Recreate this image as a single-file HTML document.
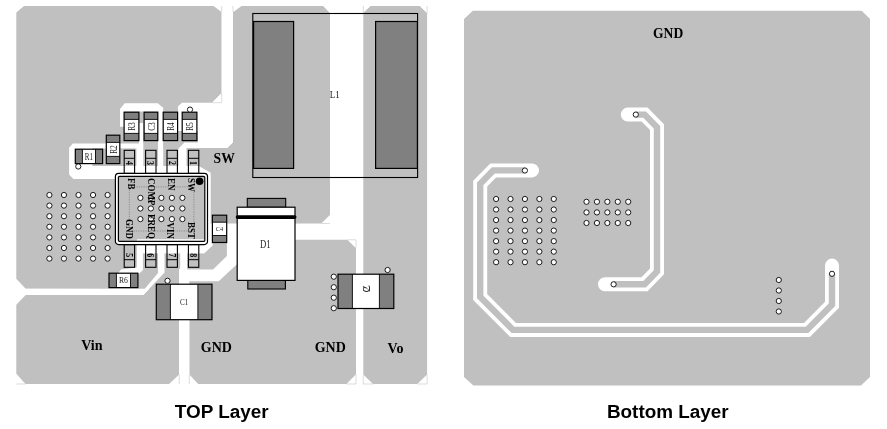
<!DOCTYPE html>
<html lang="en"><head><meta charset="utf-8"><title>PCB Layout - TOP Layer / Bottom Layer</title>
<style>
html,body{margin:0;padding:0;background:#fff;}
body{width:887px;height:429px;overflow:hidden;font-family:"Liberation Sans",sans-serif;}
svg{display:block;}
svg{will-change:transform;}
</style></head><body>
<svg width="887" height="429" viewBox="0 0 887 429">
<rect width="887" height="429" fill="#fff"/>
<polygon points="16.3,12.5 24,6 213.6,6 221.7,12.3 221.7,93 212,102.7 212,260 150,289 25.5,288.8 16.3,279" fill="#c0c0c0" />
<polygon points="100,240 240,200 240,282 100,288.8" fill="#c0c0c0" />
<polygon points="233,12.3 241.5,6 323.2,6 330,13.3 330,215 321.2,223.5 210.7,223.5 210.7,173 198.7,166 186.3,166 186.3,148 227.2,148 233,142.2" fill="#c0c0c0" />
<polygon points="25.5,295 143.4,295 164.5,272.5 164.5,253.2 179.2,253.2 179.2,374.6 169,384 25.5,384 16.3,373.7 16.3,304.6" fill="#c0c0c0" />
<polygon points="189.3,281.3 218.7,281.3 237.2,264 237.2,239.8 347.4,239.8 356,248.2 356,374.3 346.5,384 198.2,384 189.3,374.6" fill="#c0c0c0" />
<polygon points="363.3,13 370.6,6 419.7,6 427.1,13.3 427.1,374.6 417.3,384 373,384 363.3,374.6" fill="#c0c0c0" />
<polygon points="120,109 124.7,103.2 157.9,103.2 162.4,107.2 163.2,107.2 163.2,166 158,166 158,111.5 124.1,111.5 124.1,126.8 120,126.8" fill="#fff" />
<rect x="139" y="123" width="4.3" height="27" fill="#fff" />
<polygon points="178,106.3 182,102.7 212,102.7 221.7,93 221.7,6 233,6 233,142.2 227.2,148 186.3,148 186.3,173.5 178.4,173.5 178.4,148.4 184.2,142.6 197.9,142.6 197.9,131 178,131" fill="#fff" />
<polygon points="72.8,143.5 163.2,143.5 163.2,148.4 186.3,148.4 186.3,166 198.7,166 210.7,172.8 210.7,223.5 212.4,223.5 212.4,245.6 204.2,253.2 137,253.2 137,239.2 204.8,239.2 204.8,176.4 118.4,176.4 118.4,179.1 73.4,179.1 69.1,174.6 69.1,147.8" fill="#fff" />
<rect x="92.4" y="148.4" width="44" height="17.6" fill="#c0c0c0" />
<rect x="143.3" y="123" width="14.7" height="43" fill="#c0c0c0" />
<polygon points="163.2,131 163.2,166 178.4,166 178.4,148.4 184.2,142.6 163.2,142.6" fill="#c0c0c0" />
<polygon points="136.8,244 142.9,244 142.9,270 137.8,275 117,275 121,269.6 136.8,267.5" fill="#fff" />
<polygon points="158,244 164.5,244 164.5,272.5 143.4,295 25.5,295 16.3,304.6 10,304.6 10,279 16.3,279 25.5,288.8 144.8,288.8 158,273" fill="#fff" />
<polygon points="180.2,244 187.2,244 187.2,269.4 213,269.4 226.9,256 226.9,223.5 237.2,223.5 237.2,264 218.7,281.3 189.3,281.3 189.3,384 179,384 179,269.4 180.2,268" fill="#fff" />
<rect x="137" y="244" width="67.2" height="9.2" fill="#fff" />
<polygon points="204.2,253.2 212.4,245.6 212.4,244 204.2,244" fill="#fff" />
<line x1="221.7" y1="6" x2="221.7" y2="12.3" stroke="#cdcdcd" stroke-width="0.7"/>
<line x1="233" y1="6" x2="233" y2="12.3" stroke="#cdcdcd" stroke-width="0.7"/>
<line x1="221.7" y1="93" x2="221.7" y2="102.7" stroke="#cdcdcd" stroke-width="0.7"/>
<line x1="212" y1="102.7" x2="221.7" y2="102.7" stroke="#cdcdcd" stroke-width="0.7"/>
<line x1="363.3" y1="6" x2="363.3" y2="13" stroke="#cdcdcd" stroke-width="0.7"/>
<line x1="427.1" y1="6" x2="427.1" y2="13.3" stroke="#cdcdcd" stroke-width="0.7"/>
<line x1="321.2" y1="223.5" x2="330" y2="223.5" stroke="#cdcdcd" stroke-width="0.7"/>
<line x1="356" y1="239.8" x2="356" y2="248.2" stroke="#cdcdcd" stroke-width="0.7"/>
<line x1="347.4" y1="239.8" x2="356" y2="239.8" stroke="#cdcdcd" stroke-width="0.7"/>
<line x1="16.3" y1="384" x2="25.5" y2="384" stroke="#cdcdcd" stroke-width="0.7"/>
<line x1="179.2" y1="374.6" x2="179.2" y2="384" stroke="#cdcdcd" stroke-width="0.7"/>
<line x1="189.3" y1="374.6" x2="189.3" y2="384" stroke="#cdcdcd" stroke-width="0.7"/>
<line x1="356" y1="374.3" x2="356" y2="384" stroke="#cdcdcd" stroke-width="0.7"/>
<line x1="346.5" y1="384" x2="356" y2="384" stroke="#cdcdcd" stroke-width="0.7"/>
<line x1="363.3" y1="374.6" x2="363.3" y2="384" stroke="#cdcdcd" stroke-width="0.7"/>
<line x1="363.3" y1="384" x2="373" y2="384" stroke="#cdcdcd" stroke-width="0.7"/>
<line x1="417.3" y1="384" x2="427.1" y2="384" stroke="#cdcdcd" stroke-width="0.7"/>
<line x1="427.1" y1="374.6" x2="427.1" y2="384" stroke="#cdcdcd" stroke-width="0.7"/>
<circle cx="49.4" cy="195" r="2.62" fill="#fff" stroke="#111" stroke-width="0.95"/>
<circle cx="49.4" cy="205.6" r="2.62" fill="#fff" stroke="#111" stroke-width="0.95"/>
<circle cx="49.4" cy="216.2" r="2.62" fill="#fff" stroke="#111" stroke-width="0.95"/>
<circle cx="49.4" cy="226.8" r="2.62" fill="#fff" stroke="#111" stroke-width="0.95"/>
<circle cx="49.4" cy="237.4" r="2.62" fill="#fff" stroke="#111" stroke-width="0.95"/>
<circle cx="49.4" cy="248" r="2.62" fill="#fff" stroke="#111" stroke-width="0.95"/>
<circle cx="49.4" cy="258.6" r="2.62" fill="#fff" stroke="#111" stroke-width="0.95"/>
<circle cx="63.95" cy="195" r="2.62" fill="#fff" stroke="#111" stroke-width="0.95"/>
<circle cx="63.95" cy="205.6" r="2.62" fill="#fff" stroke="#111" stroke-width="0.95"/>
<circle cx="63.95" cy="216.2" r="2.62" fill="#fff" stroke="#111" stroke-width="0.95"/>
<circle cx="63.95" cy="226.8" r="2.62" fill="#fff" stroke="#111" stroke-width="0.95"/>
<circle cx="63.95" cy="237.4" r="2.62" fill="#fff" stroke="#111" stroke-width="0.95"/>
<circle cx="63.95" cy="248" r="2.62" fill="#fff" stroke="#111" stroke-width="0.95"/>
<circle cx="63.95" cy="258.6" r="2.62" fill="#fff" stroke="#111" stroke-width="0.95"/>
<circle cx="78.5" cy="195" r="2.62" fill="#fff" stroke="#111" stroke-width="0.95"/>
<circle cx="78.5" cy="205.6" r="2.62" fill="#fff" stroke="#111" stroke-width="0.95"/>
<circle cx="78.5" cy="216.2" r="2.62" fill="#fff" stroke="#111" stroke-width="0.95"/>
<circle cx="78.5" cy="226.8" r="2.62" fill="#fff" stroke="#111" stroke-width="0.95"/>
<circle cx="78.5" cy="237.4" r="2.62" fill="#fff" stroke="#111" stroke-width="0.95"/>
<circle cx="78.5" cy="248" r="2.62" fill="#fff" stroke="#111" stroke-width="0.95"/>
<circle cx="78.5" cy="258.6" r="2.62" fill="#fff" stroke="#111" stroke-width="0.95"/>
<circle cx="93.05" cy="195" r="2.62" fill="#fff" stroke="#111" stroke-width="0.95"/>
<circle cx="93.05" cy="205.6" r="2.62" fill="#fff" stroke="#111" stroke-width="0.95"/>
<circle cx="93.05" cy="216.2" r="2.62" fill="#fff" stroke="#111" stroke-width="0.95"/>
<circle cx="93.05" cy="226.8" r="2.62" fill="#fff" stroke="#111" stroke-width="0.95"/>
<circle cx="93.05" cy="237.4" r="2.62" fill="#fff" stroke="#111" stroke-width="0.95"/>
<circle cx="93.05" cy="248" r="2.62" fill="#fff" stroke="#111" stroke-width="0.95"/>
<circle cx="93.05" cy="258.6" r="2.62" fill="#fff" stroke="#111" stroke-width="0.95"/>
<circle cx="107.6" cy="195" r="2.62" fill="#fff" stroke="#111" stroke-width="0.95"/>
<circle cx="107.6" cy="205.6" r="2.62" fill="#fff" stroke="#111" stroke-width="0.95"/>
<circle cx="107.6" cy="216.2" r="2.62" fill="#fff" stroke="#111" stroke-width="0.95"/>
<circle cx="107.6" cy="226.8" r="2.62" fill="#fff" stroke="#111" stroke-width="0.95"/>
<circle cx="107.6" cy="237.4" r="2.62" fill="#fff" stroke="#111" stroke-width="0.95"/>
<circle cx="107.6" cy="248" r="2.62" fill="#fff" stroke="#111" stroke-width="0.95"/>
<circle cx="107.6" cy="258.6" r="2.62" fill="#fff" stroke="#111" stroke-width="0.95"/>
<circle cx="140.4" cy="197.9" r="2.62" fill="#fff" stroke="#111" stroke-width="0.95"/>
<circle cx="140.4" cy="208.5" r="2.62" fill="#fff" stroke="#111" stroke-width="0.95"/>
<circle cx="140.4" cy="219.1" r="2.62" fill="#fff" stroke="#111" stroke-width="0.95"/>
<circle cx="150.9" cy="197.9" r="2.62" fill="#fff" stroke="#111" stroke-width="0.95"/>
<circle cx="150.9" cy="208.5" r="2.62" fill="#fff" stroke="#111" stroke-width="0.95"/>
<circle cx="150.9" cy="219.1" r="2.62" fill="#fff" stroke="#111" stroke-width="0.95"/>
<circle cx="161.4" cy="197.9" r="2.62" fill="#fff" stroke="#111" stroke-width="0.95"/>
<circle cx="161.4" cy="208.5" r="2.62" fill="#fff" stroke="#111" stroke-width="0.95"/>
<circle cx="161.4" cy="219.1" r="2.62" fill="#fff" stroke="#111" stroke-width="0.95"/>
<circle cx="171.9" cy="197.9" r="2.62" fill="#fff" stroke="#111" stroke-width="0.95"/>
<circle cx="171.9" cy="208.5" r="2.62" fill="#fff" stroke="#111" stroke-width="0.95"/>
<circle cx="171.9" cy="219.1" r="2.62" fill="#fff" stroke="#111" stroke-width="0.95"/>
<circle cx="182.4" cy="197.9" r="2.62" fill="#fff" stroke="#111" stroke-width="0.95"/>
<circle cx="182.4" cy="208.5" r="2.62" fill="#fff" stroke="#111" stroke-width="0.95"/>
<circle cx="182.4" cy="219.1" r="2.62" fill="#fff" stroke="#111" stroke-width="0.95"/>
<rect x="252.8" y="13.5" width="164.8" height="164" fill="none" stroke="#000" stroke-width="1.1"/>
<rect x="253.6" y="21.5" width="40" height="146.9" fill="#808080" stroke="#000" stroke-width="1.2"/>
<rect x="375.6" y="21.5" width="41.8" height="146.9" fill="#808080" stroke="#000" stroke-width="1.2"/>
<text transform="translate(329.8,98.4)" font-family='"Liberation Serif", serif' font-size="11" font-weight="normal" text-anchor="start" fill="#222" textLength="10" lengthAdjust="spacingAndGlyphs">L1</text>
<rect x="124.1" y="112.2" width="14.8" height="28.4" fill="#fff" />
<rect x="124.1" y="112.2" width="14.8" height="7.2" fill="#808080" />
<rect x="124.1" y="133.4" width="14.8" height="7.2" fill="#808080" />
<rect x="124.1" y="112.2" width="14.8" height="28.4" fill="none" stroke="#000" stroke-width="1.2"/>
<path d="M124.1,119.4H138.9M124.1,133.4H138.9" stroke="#000" stroke-width="0.9"/>
<text transform="translate(135.1,126.5) rotate(-90)" font-family='"Liberation Serif", serif' font-size="10.5" font-weight="normal" text-anchor="middle" fill="#222" textLength="8.7" lengthAdjust="spacingAndGlyphs">R3</text>
<rect x="144.1" y="112.2" width="13.7" height="28.4" fill="#fff" />
<rect x="144.1" y="112.2" width="13.7" height="7.2" fill="#808080" />
<rect x="144.1" y="133.4" width="13.7" height="7.2" fill="#808080" />
<rect x="144.1" y="112.2" width="13.7" height="28.4" fill="none" stroke="#000" stroke-width="1.2"/>
<path d="M144.1,119.4H157.8M144.1,133.4H157.8" stroke="#000" stroke-width="0.9"/>
<text transform="translate(154.55,126.5) rotate(-90)" font-family='"Liberation Serif", serif' font-size="10.5" font-weight="normal" text-anchor="middle" fill="#222" textLength="8.7" lengthAdjust="spacingAndGlyphs">C3</text>
<rect x="163.2" y="112.2" width="14.4" height="28.4" fill="#fff" />
<rect x="163.2" y="112.2" width="14.4" height="7.2" fill="#808080" />
<rect x="163.2" y="133.4" width="14.4" height="7.2" fill="#808080" />
<rect x="163.2" y="112.2" width="14.4" height="28.4" fill="none" stroke="#000" stroke-width="1.2"/>
<path d="M163.2,119.4H177.6M163.2,133.4H177.6" stroke="#000" stroke-width="0.9"/>
<text transform="translate(174,126.5) rotate(-90)" font-family='"Liberation Serif", serif' font-size="10.5" font-weight="normal" text-anchor="middle" fill="#222" textLength="8.7" lengthAdjust="spacingAndGlyphs">R4</text>
<rect x="182.2" y="112.2" width="14.7" height="28.4" fill="#fff" />
<rect x="182.2" y="112.2" width="14.7" height="7.2" fill="#808080" />
<rect x="182.2" y="133.4" width="14.7" height="7.2" fill="#808080" />
<rect x="182.2" y="112.2" width="14.7" height="28.4" fill="none" stroke="#000" stroke-width="1.2"/>
<path d="M182.2,119.4H196.9M182.2,133.4H196.9" stroke="#000" stroke-width="0.9"/>
<text transform="translate(193.15,126.5) rotate(-90)" font-family='"Liberation Serif", serif' font-size="10.5" font-weight="normal" text-anchor="middle" fill="#222" textLength="8.7" lengthAdjust="spacingAndGlyphs">R5</text>
<rect x="106.3" y="135.2" width="13.5" height="28.4" fill="#fff" />
<rect x="106.3" y="135.2" width="13.5" height="7.2" fill="#808080" />
<rect x="106.3" y="156.4" width="13.5" height="7.2" fill="#808080" />
<rect x="106.3" y="135.2" width="13.5" height="28.4" fill="none" stroke="#000" stroke-width="1.2"/>
<path d="M106.3,142.4H119.8M106.3,156.4H119.8" stroke="#000" stroke-width="0.9"/>
<text transform="translate(116.65,149.5) rotate(-90)" font-family='"Liberation Serif", serif' font-size="10.5" font-weight="normal" text-anchor="middle" fill="#222" textLength="8.7" lengthAdjust="spacingAndGlyphs">R2</text>
<rect x="75.3" y="149.2" width="27.3" height="14.4" fill="#fff" />
<rect x="75.3" y="149.2" width="7.1" height="14.4" fill="#808080" />
<rect x="95.5" y="149.2" width="7.1" height="14.4" fill="#808080" />
<rect x="75.3" y="149.2" width="27.3" height="14.4" fill="none" stroke="#000" stroke-width="1.2"/>
<path d="M82.4,149.2V163.6M95.5,149.2V163.6" stroke="#000" stroke-width="0.9"/>
<text transform="translate(88.95,159.501)" font-family='"Liberation Serif", serif' font-size="9.7" font-weight="normal" text-anchor="middle" fill="#222" textLength="8.2" lengthAdjust="spacingAndGlyphs">R1</text>
<rect x="109" y="273.2" width="28.9" height="14.4" fill="#fff" />
<rect x="109" y="273.2" width="7.4" height="14.4" fill="#808080" />
<rect x="130.5" y="273.2" width="7.4" height="14.4" fill="#808080" />
<rect x="109" y="273.2" width="28.9" height="14.4" fill="none" stroke="#000" stroke-width="1.2"/>
<path d="M116.4,273.2V287.6M130.5,273.2V287.6" stroke="#000" stroke-width="0.9"/>
<text transform="translate(123.45,283.37)" font-family='"Liberation Serif", serif' font-size="9" font-weight="normal" text-anchor="middle" fill="#222" textLength="9" lengthAdjust="spacingAndGlyphs">R6</text>
<rect x="156.3" y="284.2" width="55.7" height="35.5" fill="#fff" />
<rect x="156.3" y="284.2" width="14.1" height="35.5" fill="#808080" />
<rect x="197.9" y="284.2" width="14.1" height="35.5" fill="#808080" />
<rect x="156.3" y="284.2" width="55.7" height="35.5" fill="none" stroke="#000" stroke-width="1.2"/>
<path d="M170.4,284.2V319.7M197.9,284.2V319.7" stroke="#000" stroke-width="0.9"/>
<text transform="translate(184.15,304.592)" font-family='"Liberation Serif", serif' font-size="7.4" font-weight="normal" text-anchor="middle" fill="#222" textLength="8.2" lengthAdjust="spacingAndGlyphs">C1</text>
<rect x="338" y="274.2" width="55.8" height="34.3" fill="#fff" />
<rect x="338" y="274.2" width="14.4" height="34.3" fill="#808080" />
<rect x="379.4" y="274.2" width="14.4" height="34.3" fill="#808080" />
<rect x="338" y="274.2" width="55.8" height="34.3" fill="none" stroke="#000" stroke-width="1.2"/>
<path d="M352.4,274.2V308.5M379.4,274.2V308.5" stroke="#000" stroke-width="0.9"/>
<text transform="translate(369.5,292.55) rotate(-90)" font-family='"Liberation Serif", serif' font-size="11" letter-spacing="-6.4" text-anchor="middle" fill="#222">C2</text>
<rect x="212.4" y="215.2" width="14.3" height="27.3" fill="#fff" />
<rect x="212.4" y="215.2" width="14.3" height="7" fill="#808080" />
<rect x="212.4" y="235.5" width="14.3" height="7" fill="#808080" />
<rect x="212.4" y="215.2" width="14.3" height="27.3" fill="none" stroke="#000" stroke-width="1.2"/>
<path d="M212.4,222.2H226.7M212.4,235.5H226.7" stroke="#000" stroke-width="0.9"/>
<text transform="translate(219.55,230.7)" font-family='"Liberation Serif", serif' font-size="6.8" font-weight="normal" text-anchor="middle" fill="#222" textLength="7.4" lengthAdjust="spacingAndGlyphs">C4</text>
<circle cx="190" cy="109.6" r="2.62" fill="#fff" stroke="#111" stroke-width="0.95"/>
<circle cx="78.3" cy="166.5" r="2.62" fill="#fff" stroke="#111" stroke-width="0.95"/>
<circle cx="167.5" cy="280.8" r="2.62" fill="#fff" stroke="#111" stroke-width="0.95"/>
<circle cx="387.6" cy="270" r="2.62" fill="#fff" stroke="#111" stroke-width="0.95"/>
<circle cx="333.8" cy="276.7" r="2.62" fill="#fff" stroke="#111" stroke-width="0.95"/>
<circle cx="333.8" cy="287.2" r="2.62" fill="#fff" stroke="#111" stroke-width="0.95"/>
<circle cx="333.8" cy="297.7" r="2.62" fill="#fff" stroke="#111" stroke-width="0.95"/>
<circle cx="333.8" cy="308.2" r="2.62" fill="#fff" stroke="#111" stroke-width="0.95"/>
<rect x="247.3" y="198.4" width="38.4" height="8.9" fill="#808080" stroke="#000" stroke-width="1.1"/>
<rect x="247.8" y="280.2" width="37.6" height="8.8" fill="#808080" stroke="#000" stroke-width="1.1"/>
<rect x="237.2" y="207.2" width="57.8" height="73.2" fill="#fff" stroke="#000" stroke-width="1.2"/>
<line x1="237.6" y1="217.1" x2="294.6" y2="217.1" stroke="#000" stroke-width="3.8" stroke-linecap="round"/>
<text transform="translate(260,247.6)" font-family='"Liberation Serif", serif' font-size="11.5" font-weight="normal" text-anchor="start" fill="#222" textLength="10.6" lengthAdjust="spacingAndGlyphs">D1</text>
<rect x="124.2" y="150.3" width="10.4" height="23.1" fill="none" stroke="#000" stroke-width="1.1"/>
<line x1="124.2" y1="158.3" x2="134.6" y2="158.3" stroke="#000" stroke-width="1"/>
<text transform="translate(126,163.1) rotate(90) scale(0.72,1)" font-family='"Liberation Serif", serif' font-size="11" font-weight="bold" text-anchor="middle" fill="#000">4</text>
<rect x="145.6" y="150.3" width="10.4" height="23.1" fill="none" stroke="#000" stroke-width="1.1"/>
<line x1="145.6" y1="158.3" x2="156" y2="158.3" stroke="#000" stroke-width="1"/>
<text transform="translate(147.4,163.1) rotate(90) scale(0.72,1)" font-family='"Liberation Serif", serif' font-size="11" font-weight="bold" text-anchor="middle" fill="#000">3</text>
<rect x="167" y="150.3" width="10.4" height="23.1" fill="none" stroke="#000" stroke-width="1.1"/>
<line x1="167" y1="158.3" x2="177.4" y2="158.3" stroke="#000" stroke-width="1"/>
<text transform="translate(168.8,163.1) rotate(90) scale(0.72,1)" font-family='"Liberation Serif", serif' font-size="11" font-weight="bold" text-anchor="middle" fill="#000">2</text>
<rect x="188.4" y="150.3" width="10.4" height="23.1" fill="none" stroke="#000" stroke-width="1.1"/>
<line x1="188.4" y1="158.3" x2="198.8" y2="158.3" stroke="#000" stroke-width="1"/>
<text transform="translate(190.2,163.1) rotate(90) scale(0.72,1)" font-family='"Liberation Serif", serif' font-size="11" font-weight="bold" text-anchor="middle" fill="#000">1</text>
<rect x="124.2" y="244.6" width="10.4" height="22.7" fill="none" stroke="#000" stroke-width="1.1"/>
<line x1="124.2" y1="259.7" x2="134.6" y2="259.7" stroke="#000" stroke-width="1"/>
<text transform="translate(126,255.3) rotate(90) scale(0.72,1)" font-family='"Liberation Serif", serif' font-size="11" font-weight="bold" text-anchor="middle" fill="#000">5</text>
<rect x="145.6" y="244.6" width="10.4" height="22.7" fill="none" stroke="#000" stroke-width="1.1"/>
<line x1="145.6" y1="259.7" x2="156" y2="259.7" stroke="#000" stroke-width="1"/>
<text transform="translate(147.4,255.3) rotate(90) scale(0.72,1)" font-family='"Liberation Serif", serif' font-size="11" font-weight="bold" text-anchor="middle" fill="#000">6</text>
<rect x="167" y="244.6" width="10.4" height="22.7" fill="none" stroke="#000" stroke-width="1.1"/>
<line x1="167" y1="259.7" x2="177.4" y2="259.7" stroke="#000" stroke-width="1"/>
<text transform="translate(168.8,255.3) rotate(90) scale(0.72,1)" font-family='"Liberation Serif", serif' font-size="11" font-weight="bold" text-anchor="middle" fill="#000">7</text>
<rect x="188.4" y="244.6" width="10.4" height="22.7" fill="none" stroke="#000" stroke-width="1.1"/>
<line x1="188.4" y1="259.7" x2="198.8" y2="259.7" stroke="#000" stroke-width="1"/>
<text transform="translate(190.2,255.3) rotate(90) scale(0.72,1)" font-family='"Liberation Serif", serif' font-size="11" font-weight="bold" text-anchor="middle" fill="#000">8</text>
<path fill-rule="evenodd" fill="#fff" stroke="#000" stroke-width="1.2" d="M118.6,173.4H204.3a3.2,3.2 0 0 1 3.2,3.2V241.4a3.2,3.2 0 0 1 -3.2,3.2H118.6a3.2,3.2 0 0 1 -3.2,-3.2V176.6a3.2,3.2 0 0 1 3.2,-3.2Z M119.6,176.4a1.2,1.2 0 0 0 -1.2,1.2V240.2a1.2,1.2 0 0 0 1.2,1.2H203.6a1.2,1.2 0 0 0 1.2,-1.2V177.6a1.2,1.2 0 0 0 -1.2,-1.2Z"/>
<rect x="129.3" y="186.9" width="64.6" height="44.1" fill="none" stroke="#777" stroke-width="0.7" stroke-dasharray="1.2,1.2"/>
<circle cx="199.6" cy="181.3" r="3.8" fill="#000"/>
<text transform="translate(127.7,178.1) rotate(90) scale(0.85,1)" font-family='"Liberation Serif", serif' font-size="10.6" font-weight="bold" text-anchor="start" fill="#000">FB</text>
<text transform="translate(147.8,178.1) rotate(90) scale(0.85,1)" font-family='"Liberation Serif", serif' font-size="10.6" font-weight="bold" text-anchor="start" fill="#000">COMP</text>
<text transform="translate(168.4,178.1) rotate(90) scale(0.85,1)" font-family='"Liberation Serif", serif' font-size="10.6" font-weight="bold" text-anchor="start" fill="#000">EN</text>
<text transform="translate(187.6,178.1) rotate(90) scale(0.85,1)" font-family='"Liberation Serif", serif' font-size="10.6" font-weight="bold" text-anchor="start" fill="#000">SW</text>
<text transform="translate(126.1,239) rotate(90) scale(0.85,1)" font-family='"Liberation Serif", serif' font-size="10.6" font-weight="bold" text-anchor="end" fill="#000">GND</text>
<text transform="translate(147.7,239) rotate(90) scale(0.85,1)" font-family='"Liberation Serif", serif' font-size="10.6" font-weight="bold" text-anchor="end" fill="#000">FREQ</text>
<text transform="translate(167.4,239) rotate(90) scale(0.85,1)" font-family='"Liberation Serif", serif' font-size="10.6" font-weight="bold" text-anchor="end" fill="#000">VIN</text>
<text transform="translate(187.5,239) rotate(90) scale(0.85,1)" font-family='"Liberation Serif", serif' font-size="10.6" font-weight="bold" text-anchor="end" fill="#000">BST</text>
<text transform="translate(213.6,163.3)" font-family='"Liberation Serif", serif' font-size="14" font-weight="bold" text-anchor="start" fill="#000" textLength="21.2" lengthAdjust="spacingAndGlyphs">SW</text>
<text transform="translate(81.2,349.5)" font-family='"Liberation Serif", serif' font-size="14.3" font-weight="bold" text-anchor="start" fill="#000" textLength="21.4" lengthAdjust="spacingAndGlyphs">Vin</text>
<text transform="translate(200.8,351.7)" font-family='"Liberation Serif", serif' font-size="14" font-weight="bold" text-anchor="start" fill="#000">GND</text>
<text transform="translate(314.7,351.7)" font-family='"Liberation Serif", serif' font-size="14" font-weight="bold" text-anchor="start" fill="#000">GND</text>
<text transform="translate(387.6,353)" font-family='"Liberation Serif", serif' font-size="14" font-weight="bold" text-anchor="start" fill="#000">Vo</text>
<text transform="translate(221.7,417.6)" font-family='"Liberation Sans", sans-serif' font-size="18.9" font-weight="bold" text-anchor="middle" fill="#000">TOP Layer</text>
<polygon points="464,19 472.8,10.8 861.7,10.8 870,19 870,377 861,385.5 473.4,385.5 464,377" fill="#c0c0c0" />
<path d="M832,265.6V304.8L807,329.9H513L480.2,297V183.7L493.2,170.4H532" fill="none" stroke="#fff" stroke-width="14" stroke-linecap="round" stroke-linejoin="miter"/>
<path d="M832,273.8V304.8L807,329.9H513L480.2,297V183.7L493.2,170.4H524.9" fill="none" stroke="#c0c0c0" stroke-width="6.4" stroke-linecap="butt" stroke-linejoin="miter"/>
<path d="M627.8,114.6H644.6L657,127.2V271.5L644.6,284.2H605" fill="none" stroke="#fff" stroke-width="14" stroke-linecap="round" stroke-linejoin="miter"/>
<path d="M635.8,114.6H644.6L657,127.2V271.5L644.6,284.2H613.6" fill="none" stroke="#c0c0c0" stroke-width="6.4" stroke-linecap="butt" stroke-linejoin="miter"/>
<circle cx="524.9" cy="170.5" r="2.62" fill="#fff" stroke="#111" stroke-width="0.95"/>
<circle cx="832" cy="273.8" r="2.62" fill="#fff" stroke="#111" stroke-width="0.95"/>
<circle cx="635.8" cy="114.6" r="2.62" fill="#fff" stroke="#111" stroke-width="0.95"/>
<circle cx="613.6" cy="284.3" r="2.62" fill="#fff" stroke="#111" stroke-width="0.95"/>
<circle cx="496.1" cy="199" r="2.62" fill="#fff" stroke="#111" stroke-width="0.95"/>
<circle cx="496.1" cy="209.53" r="2.62" fill="#fff" stroke="#111" stroke-width="0.95"/>
<circle cx="496.1" cy="220.06" r="2.62" fill="#fff" stroke="#111" stroke-width="0.95"/>
<circle cx="496.1" cy="230.59" r="2.62" fill="#fff" stroke="#111" stroke-width="0.95"/>
<circle cx="496.1" cy="241.12" r="2.62" fill="#fff" stroke="#111" stroke-width="0.95"/>
<circle cx="496.1" cy="251.65" r="2.62" fill="#fff" stroke="#111" stroke-width="0.95"/>
<circle cx="496.1" cy="262.18" r="2.62" fill="#fff" stroke="#111" stroke-width="0.95"/>
<circle cx="510.52" cy="199" r="2.62" fill="#fff" stroke="#111" stroke-width="0.95"/>
<circle cx="510.52" cy="209.53" r="2.62" fill="#fff" stroke="#111" stroke-width="0.95"/>
<circle cx="510.52" cy="220.06" r="2.62" fill="#fff" stroke="#111" stroke-width="0.95"/>
<circle cx="510.52" cy="230.59" r="2.62" fill="#fff" stroke="#111" stroke-width="0.95"/>
<circle cx="510.52" cy="241.12" r="2.62" fill="#fff" stroke="#111" stroke-width="0.95"/>
<circle cx="510.52" cy="251.65" r="2.62" fill="#fff" stroke="#111" stroke-width="0.95"/>
<circle cx="510.52" cy="262.18" r="2.62" fill="#fff" stroke="#111" stroke-width="0.95"/>
<circle cx="524.94" cy="199" r="2.62" fill="#fff" stroke="#111" stroke-width="0.95"/>
<circle cx="524.94" cy="209.53" r="2.62" fill="#fff" stroke="#111" stroke-width="0.95"/>
<circle cx="524.94" cy="220.06" r="2.62" fill="#fff" stroke="#111" stroke-width="0.95"/>
<circle cx="524.94" cy="230.59" r="2.62" fill="#fff" stroke="#111" stroke-width="0.95"/>
<circle cx="524.94" cy="241.12" r="2.62" fill="#fff" stroke="#111" stroke-width="0.95"/>
<circle cx="524.94" cy="251.65" r="2.62" fill="#fff" stroke="#111" stroke-width="0.95"/>
<circle cx="524.94" cy="262.18" r="2.62" fill="#fff" stroke="#111" stroke-width="0.95"/>
<circle cx="539.36" cy="199" r="2.62" fill="#fff" stroke="#111" stroke-width="0.95"/>
<circle cx="539.36" cy="209.53" r="2.62" fill="#fff" stroke="#111" stroke-width="0.95"/>
<circle cx="539.36" cy="220.06" r="2.62" fill="#fff" stroke="#111" stroke-width="0.95"/>
<circle cx="539.36" cy="230.59" r="2.62" fill="#fff" stroke="#111" stroke-width="0.95"/>
<circle cx="539.36" cy="241.12" r="2.62" fill="#fff" stroke="#111" stroke-width="0.95"/>
<circle cx="539.36" cy="251.65" r="2.62" fill="#fff" stroke="#111" stroke-width="0.95"/>
<circle cx="539.36" cy="262.18" r="2.62" fill="#fff" stroke="#111" stroke-width="0.95"/>
<circle cx="553.78" cy="199" r="2.62" fill="#fff" stroke="#111" stroke-width="0.95"/>
<circle cx="553.78" cy="209.53" r="2.62" fill="#fff" stroke="#111" stroke-width="0.95"/>
<circle cx="553.78" cy="220.06" r="2.62" fill="#fff" stroke="#111" stroke-width="0.95"/>
<circle cx="553.78" cy="230.59" r="2.62" fill="#fff" stroke="#111" stroke-width="0.95"/>
<circle cx="553.78" cy="241.12" r="2.62" fill="#fff" stroke="#111" stroke-width="0.95"/>
<circle cx="553.78" cy="251.65" r="2.62" fill="#fff" stroke="#111" stroke-width="0.95"/>
<circle cx="553.78" cy="262.18" r="2.62" fill="#fff" stroke="#111" stroke-width="0.95"/>
<circle cx="586.5" cy="201.8" r="2.62" fill="#fff" stroke="#111" stroke-width="0.95"/>
<circle cx="586.5" cy="212.4" r="2.62" fill="#fff" stroke="#111" stroke-width="0.95"/>
<circle cx="586.5" cy="223" r="2.62" fill="#fff" stroke="#111" stroke-width="0.95"/>
<circle cx="596.93" cy="201.8" r="2.62" fill="#fff" stroke="#111" stroke-width="0.95"/>
<circle cx="596.93" cy="212.4" r="2.62" fill="#fff" stroke="#111" stroke-width="0.95"/>
<circle cx="596.93" cy="223" r="2.62" fill="#fff" stroke="#111" stroke-width="0.95"/>
<circle cx="607.36" cy="201.8" r="2.62" fill="#fff" stroke="#111" stroke-width="0.95"/>
<circle cx="607.36" cy="212.4" r="2.62" fill="#fff" stroke="#111" stroke-width="0.95"/>
<circle cx="607.36" cy="223" r="2.62" fill="#fff" stroke="#111" stroke-width="0.95"/>
<circle cx="617.79" cy="201.8" r="2.62" fill="#fff" stroke="#111" stroke-width="0.95"/>
<circle cx="617.79" cy="212.4" r="2.62" fill="#fff" stroke="#111" stroke-width="0.95"/>
<circle cx="617.79" cy="223" r="2.62" fill="#fff" stroke="#111" stroke-width="0.95"/>
<circle cx="628.22" cy="201.8" r="2.62" fill="#fff" stroke="#111" stroke-width="0.95"/>
<circle cx="628.22" cy="212.4" r="2.62" fill="#fff" stroke="#111" stroke-width="0.95"/>
<circle cx="628.22" cy="223" r="2.62" fill="#fff" stroke="#111" stroke-width="0.95"/>
<circle cx="778.8" cy="280" r="2.62" fill="#fff" stroke="#111" stroke-width="0.95"/>
<circle cx="778.8" cy="290.5" r="2.62" fill="#fff" stroke="#111" stroke-width="0.95"/>
<circle cx="778.8" cy="301" r="2.62" fill="#fff" stroke="#111" stroke-width="0.95"/>
<circle cx="778.8" cy="311.5" r="2.62" fill="#fff" stroke="#111" stroke-width="0.95"/>
<text transform="translate(653,38.1)" font-family='"Liberation Serif", serif' font-size="14" font-weight="bold" text-anchor="start" fill="#000" textLength="30.2" lengthAdjust="spacingAndGlyphs">GND</text>
<text transform="translate(667.8,417.9)" font-family='"Liberation Sans", sans-serif' font-size="18.9" font-weight="bold" text-anchor="middle" fill="#000">Bottom Layer</text>
</svg>
</body></html>
